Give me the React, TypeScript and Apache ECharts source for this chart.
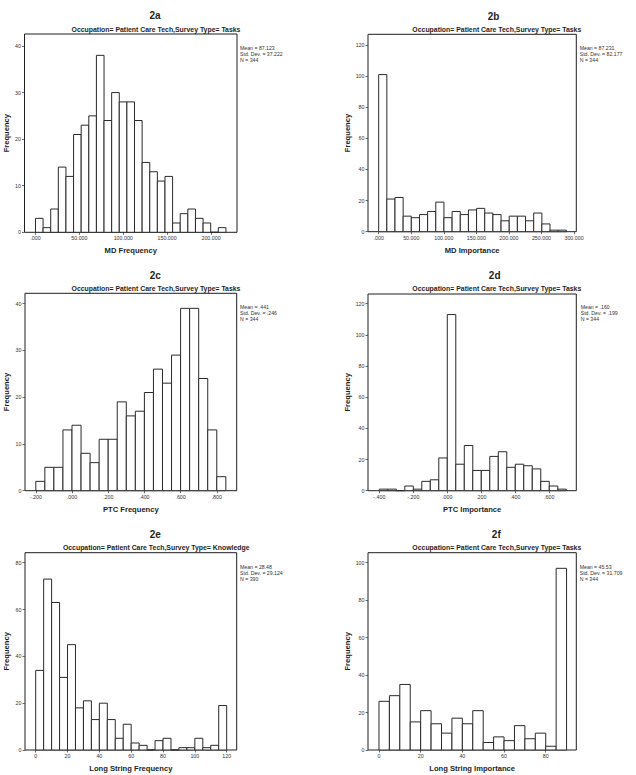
import React, { useEffect, useRef } from "react";
import * as echarts from "echarts";

// ---- Data ----
const panelIds = ["2a", "2b", "2c", "2d", "2e", "2f"];
const subtitles = [
  "Occupation= Patient Care Tech,Survey Type= Tasks",
  "Occupation= Patient Care Tech,Survey Type= Tasks",
  "Occupation= Patient Care Tech,Survey Type= Tasks",
  "Occupation= Patient Care Tech,Survey Type= Tasks",
  "Occupation= Patient Care Tech,Survey Type= Knowledge",
  "Occupation= Patient Care Tech,Survey Type= Tasks",
];
const xNames = [
  "MD Frequency",
  "MD Importance",
  "PTC Frequency",
  "PTC Importance",
  "Long String Frequency",
  "Long String Importance",
];
const statsA = ["Mean = 87.123", "Std. Dev. = 37.222", "N = 344"];
const statsB = ["Mean = 87.231", "Std. Dev. = 82.177", "N = 344"];
const statsC = ["Mean = .441", "Std. Dev. = .246", "N = 344"];
const statsD = ["Mean = .160", "Std. Dev. = .199", "N = 344"];
const statsE = ["Mean = 28.48", "Std. Dev. = 29.124", "N = 390"];
const statsF = ["Mean = 45.53", "Std. Dev. = 31.709", "N = 344"];

// bin start & width (x units) and counts per bin
const binStartA = 0;
const binWidthA = 8.68;
const countsA = [3, 1, 5, 14, 12, 21, 23, 25, 38, 24, 30, 28, 28, 24, 15, 13, 11, 12, 2, 4, 5, 3, 2, 0, 1];

const binStartB = 0;
const binWidthB = 12.53;
const countsB = [101, 21, 22, 10, 9, 11, 13, 19, 9, 13, 11, 14, 15, 12, 11, 7, 10, 10, 7, 12, 5, 1, 1];

const binStartC = -0.2;
const binWidthC = 0.05;
const countsC = [2, 5, 5, 13, 14, 8, 6, 11, 11, 19, 16, 17, 21, 26, 23, 29, 39, 39, 24, 13, 3];

const binStartD = -0.4;
const binWidthD = 0.05;
const countsD = [1, 1, 0, 3, 1, 6, 7, 21, 113, 17, 29, 13, 13, 22, 25, 15, 17, 16, 14, 6, 3, 1];

const binStartE = 0;
const binWidthE = 5;
const countsE = [34, 73, 63, 31, 45, 18, 21, 13, 20, 13, 5, 11, 3, 2, 0, 4, 5, 0, 1, 1, 5, 1, 2, 19];

const binStartF = 0;
const binWidthF = 5;
const countsF = [26, 29, 35, 15, 21, 14, 9, 17, 14, 21, 4, 7, 5, 13, 6, 9, 2, 97];

// tick values
const xTicksA = [0, 50, 100, 150, 200];
const xTicksB = [0, 50, 100, 150, 200, 250, 300];
const xTicksC = [-0.2, 0, 0.2, 0.4, 0.6, 0.8];
const xTicksD = [-0.4, -0.2, 0, 0.2, 0.4, 0.6];
const xTicksE = [0, 20, 40, 60, 80, 100, 120];
const xTicksF = [0, 20, 40, 60, 80];
const yTicksA = [0, 10, 20, 30, 40];
const yTicksB = [0, 20, 40, 60, 80, 100, 120];
const yTicksC = [0, 10, 20, 30, 40];
const yTicksD = [0, 20, 40, 60, 80, 100, 120];
const yTicksE = [0, 20, 40, 60, 80];
const yTicksF = [0, 20, 40, 60, 80, 100];

// axis ranges
const xRanges = [
  [-12.5, 229.6],
  [-16.4, 303.5],
  [-0.2597, 0.91],
  [-0.4665, 0.759],
  [-6.72, 126.3],
  [-5.27, 94.67],
];
const yMaxes = [42.58, 126.9, 42.22, 126.2, 84.27, 105.34];

// ---- Layout ----
const grids = [
  { left: 24.5, top: 34, width: 212.5, height: 198.3 },
  { left: 368, top: 34.3, width: 208.3, height: 197.4 },
  { left: 25, top: 293.3, width: 211.7, height: 197.4 },
  { left: 368, top: 294, width: 208.3, height: 196.7 },
  { left: 25, top: 552.7, width: 211.7, height: 197.3 },
  { left: 368, top: 552.7, width: 208.3, height: 197.3 },
];
const titlePos = [
  [155, 15.7],
  [493.5, 16.5],
  [155.3, 275],
  [494.7, 275.5],
  [155.3, 534],
  [496.3, 534],
];
const subPos = [
  [156, 29.3],
  [496.8, 29.3],
  [156, 288.3],
  [496.8, 288.3],
  [156.2, 547.3],
  [496.8, 547.3],
];
const statsPos = [
  [240, 45.5],
  [579.7, 45.5],
  [240, 304.5],
  [580.7, 304.5],
  [240, 564],
  [579.7, 564],
];
const yNameGaps = [14.5, 17, 14.5, 17, 14.5, 17];

const FONT = "'Liberation Sans', Arial, Helvetica, sans-serif";
const INK = "#1e1e1e";

function fmtDecimal(v: number) {
  return v.toFixed(3).replace(/^(-?)0\./, "$1.");
}

function buildBins(start: number, width: number, counts: number[]) {
  return counts.map((c, i) => [start + i * width, start + (i + 1) * width, c]);
}

export default function App() {
  const ref = useRef<HTMLDivElement>(null);

  useEffect(() => {
    if (!ref.current) return;
    const chart = echarts.init(ref.current, null, { renderer: "svg" });

    const bins = [
      buildBins(binStartA, binWidthA, countsA),
      buildBins(binStartB, binWidthB, countsB),
      buildBins(binStartC, binWidthC, countsC),
      buildBins(binStartD, binWidthD, countsD),
      buildBins(binStartE, binWidthE, countsE),
      buildBins(binStartF, binWidthF, countsF),
    ];
    const xTicks = [xTicksA, xTicksB, xTicksC, xTicksD, xTicksE, xTicksF];
    const yTicks = [yTicksA, yTicksB, yTicksC, yTicksD, yTicksE, yTicksF];
    const stats = [statsA, statsB, statsC, statsD, statsE, statsF];
    const xFormatters = [
      fmtDecimal,
      fmtDecimal,
      fmtDecimal,
      fmtDecimal,
      (v: number) => String(v),
      (v: number) => String(v),
    ];

    const graphic: any[] = [];
    panelIds.forEach((id, i) => {
      graphic.push({
        type: "text",
        x: titlePos[i][0],
        y: titlePos[i][1],
        style: {
          text: id,
          fontFamily: FONT,
          fontSize: 10,
          fontWeight: "bold",
          fill: INK,
          align: "center",
          verticalAlign: "middle",
        },
      });
      graphic.push({
        type: "text",
        x: subPos[i][0],
        y: subPos[i][1],
        style: {
          text: subtitles[i],
          fontFamily: FONT,
          fontSize: 6.9,
          fontWeight: "bold",
          fill: INK,
          align: "center",
          verticalAlign: "middle",
        },
      });
      graphic.push({
        type: "text",
        x: statsPos[i][0],
        y: statsPos[i][1],
        style: {
          text: stats[i].join("\n"),
          fontFamily: FONT,
          fontSize: 5.2,
          lineHeight: 5.9,
          fill: "#333",
          align: "left",
          verticalAlign: "top",
        },
      });
    });

    const option: any = {
      animation: false,
      backgroundColor: "#ffffff",
      grid: grids.map((g) => ({
        ...g,
        show: true,
        backgroundColor: "#ffffff",
        borderColor: INK,
        borderWidth: 1,
        containLabel: false,
      })),
      xAxis: panelIds.map((_, i) => ({
        type: "value",
        gridIndex: i,
        position: "bottom",
        min: xRanges[i][0],
        max: xRanges[i][1],
        name: xNames[i],
        nameLocation: "middle",
        nameGap: 14.5,
        nameTextStyle: {
          fontFamily: FONT,
          fontSize: 7.6,
          fontWeight: "bold",
          color: INK,
        },
        axisLine: { show: false, onZero: false },
        splitLine: { show: false },
        axisTick: {
          show: true,
          inside: false,
          length: 2.5,
          customValues: xTicks[i],
          lineStyle: { color: "#444", width: 0.8 },
        },
        axisLabel: {
          show: true,
          customValues: xTicks[i],
          margin: 3.5,
          fontFamily: FONT,
          fontSize: 5.3,
          color: "#333",
          formatter: xFormatters[i],
        },
      })),
      yAxis: panelIds.map((_, i) => ({
        type: "value",
        gridIndex: i,
        position: "left",
        min: 0,
        max: yMaxes[i],
        name: "Frequency",
        nameLocation: "middle",
        nameGap: yNameGaps[i],
        nameTextStyle: {
          fontFamily: FONT,
          fontSize: 7.6,
          fontWeight: "bold",
          color: INK,
        },
        axisLine: { show: false, onZero: false },
        splitLine: { show: false },
        axisTick: {
          show: true,
          inside: false,
          length: 2.5,
          customValues: yTicks[i],
          lineStyle: { color: "#444", width: 0.8 },
        },
        axisLabel: {
          show: true,
          customValues: yTicks[i],
          margin: 3.5,
          fontFamily: FONT,
          fontSize: 5.3,
          color: "#333",
        },
      })),
      series: panelIds.map((id, i) => ({
        type: "custom",
        name: id,
        xAxisIndex: i,
        yAxisIndex: i,
        encode: { x: [0, 1], y: 2 },
        data: bins[i],
        clip: false,
        renderItem: (_params: any, api: any) => {
          const x0 = api.value(0);
          const x1 = api.value(1);
          const c = api.value(2);
          const pTop = api.coord([x0, c]);
          const pBot = api.coord([x1, 0]);
          return {
            type: "rect",
            shape: {
              x: pTop[0],
              y: pTop[1],
              width: pBot[0] - pTop[0],
              height: pBot[1] - pTop[1],
            },
            style: { fill: "#ffffff", stroke: "#2a2a2a", lineWidth: 1 },
          };
        },
      })),
      graphic,
    };

    chart.setOption(option);
    return () => chart.dispose();
  }, []);

  return (
    <div
      ref={ref}
      style={{ position: "absolute", left: 0, top: 0, width: 636, height: 775, background: "#fff" }}
    />
  );
}
